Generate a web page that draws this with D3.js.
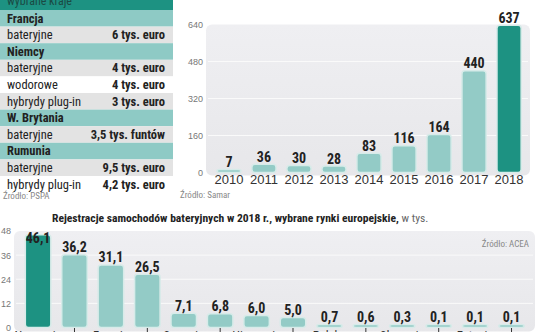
<!DOCTYPE html>
<html><head><meta charset="utf-8">
<script src="https://cdn.jsdelivr.net/npm/d3@7/dist/d3.min.js"></script>
<style>
html,body{margin:0;padding:0;background:#fff;}
svg{display:block;font-family:"Liberation Sans Narrow","Roboto Condensed","DejaVu Sans Condensed",sans-serif;}
</style></head><body>
<svg id="c" width="536" height="332"></svg>
<script>
// ---- data ----
const tableHeader = "wybrane kraje";
const tableLabels = ["Francja","bateryjne","Niemcy","bateryjne","wodorowe","hybrydy plug-in","W. Brytania","bateryjne","Rumunia","bateryjne","hybrydy plug-in"];
const tableValues = ["","6 tys. euro","","4 tys. euro","4 tys. euro","3 tys. euro","","3,5 tys. funtów","","9,5 tys. euro","4,2 tys. euro"];
const tableRowTypes = ["country","grey","country","grey","white","grey","country","grey","country","grey","white"];

const years = ["2010","2011","2012","2013","2014","2015","2016","2017","2018"];
const yearValues = [7,36,30,28,83,116,164,440,637];
const yearTicks = [0,160,320,480,640];

const countries = ["Norwegia","Niemcy","Francja","Holandia","Szwecja","Austria","Hiszpania","Włochy","Polska","Czechy","Słowacja","Węgry","Estonia","Łotwa"];
const regValues = [46.1,36.2,31.1,26.5,7.1,6.8,6.0,5.0,0.7,0.6,0.3,0.1,0.1,0.1];
const regTicks = [0,12,24,36,48];

const fmt = v => String(v.toFixed(1)).replace(".", ",");

const svg = d3.select("#c");
const C = {dark:"#1d9282", light:"#93cbc6", teal:"#8ecac5", grey:"#e3e3e3", panel:"#ececef", text:"#222", axis:"#777"};

// ---- table ----
const rowH = 16.6, rowY0 = 10, tW = 173;
svg.append("rect").attr("x",0).attr("y",-8).attr("width",tW).attr("height",rowY0+8).attr("fill",C.dark);
svg.append("text").attr("x",7).attr("y",5).attr("font-size",12).attr("fill","#1b4a44").text(tableHeader);
const rows = svg.append("g").selectAll("g").data(tableLabels).join("g")
  .attr("transform",(d,i)=>`translate(0,${rowY0+i*rowH})`);
rows.append("rect").attr("width",tW).attr("height",rowH)
  .attr("fill",(d,i)=>tableRowTypes[i]==="country"?C.teal:tableRowTypes[i]==="grey"?C.grey:"#fff");
rows.append("text").attr("x",7).attr("y",rowH/2+4.2).attr("font-size",12.5)
  .attr("font-weight",(d,i)=>tableRowTypes[i]==="country"?"bold":"normal").attr("fill",C.text).text(d=>d);
rows.append("text").attr("x",165).attr("y",rowH/2+4.2).attr("font-size",12.5).attr("font-weight","bold")
  .attr("text-anchor","end").attr("fill",C.text).text((d,i)=>tableValues[i]);
svg.append("text").attr("x",3).attr("y",199).attr("font-size",9).attr("fill","#888").text("Źródło: PSPA");

// ---- top-right chart ----
const x1 = d3.scaleBand().domain(years).range([206,532]).padding(0.31);
const y1 = d3.scaleLinear().domain([0,640]).range([172.5,24.5]);
const grad = svg.append("defs").append("linearGradient").attr("id","pg").attr("x1",0).attr("x2",0).attr("y1",0).attr("y2",1);
grad.append("stop").attr("offset","0%").attr("stop-color","#efeff2");
grad.append("stop").attr("offset","100%").attr("stop-color","#e7e7ea");
svg.append("rect").attr("x",206).attr("y",y1(640)).attr("width",324).attr("height",y1(0)-y1(640)+3).attr("rx",6).attr("fill","url(#pg)");
svg.append("g").selectAll("line").data(yearTicks.filter(t=>t>0&&t<640)).join("line")
  .attr("x1",208).attr("x2",528).attr("y1",d=>y1(d)).attr("y2",d=>y1(d)).attr("stroke","#fafafa").attr("stroke-width",1);
const ax1 = d3.axisLeft(y1).tickValues(yearTicks).tickSize(0).tickPadding(0);
const g1 = svg.append("g").attr("transform","translate(203,0)").call(ax1);
g1.select(".domain").remove();
g1.selectAll("text").attr("font-size",9).attr("fill",C.axis).attr("font-family","inherit");
svg.append("g").selectAll("rect").data(years).join("rect")
  .attr("x",d=>x1(d)).attr("width",x1.bandwidth())
  .attr("y",(d,i)=>Math.min(y1(yearValues[i]), y1(0)-3)).attr("height",(d,i)=>Math.max(y1(0)-y1(yearValues[i]),3))
  .attr("rx",3).attr("fill",(d,i)=>i===years.length-1?C.dark:C.light)
  .attr("stroke","#d7ebe9").attr("stroke-width",1.5);
svg.append("g").selectAll("text").data(years).join("text")
  .attr("x",d=>x1(d)+x1.bandwidth()/2).attr("y",(d,i)=>Math.min(y1(yearValues[i]),y1(0)-3)-2.5)
  .attr("text-anchor","middle").attr("font-size",14).attr("font-weight","bold").attr("fill",C.text)
  .text((d,i)=>yearValues[i]);
const ax1b = d3.axisBottom(x1).tickSize(0).tickPadding(0);
const g1b = svg.append("g").attr("transform","translate(0,175)").call(ax1b);
g1b.select(".domain").remove();
g1b.selectAll("text").attr("font-size",13).attr("fill","#333").attr("font-family","inherit").attr("dy","0.71em");
svg.append("text").attr("x",180).attr("y",198).attr("font-size",9).attr("fill","#888").text("Źródło: Samar");

// ---- bottom chart ----
const t = svg.append("text").attr("x",52).attr("y",222).attr("font-size",11.6).attr("fill",C.text);
t.append("tspan").attr("font-weight","bold").text("Rejestracje samochodów bateryjnych w 2018 r., wybrane rynki europejskie,");
t.append("tspan").attr("fill","#666").text(" w tys.");
const x2 = d3.scaleBand().domain(countries).range([14.4,535.2]).padding(0.3);
const y2 = d3.scaleLinear().domain([0,48]).range([327.5,231]);
svg.append("rect").attr("x",14).attr("y",y2(48)).attr("width",521).attr("height",y2(0)-y2(48)+4).attr("rx",6).attr("fill","url(#pg)");
svg.append("g").selectAll("line").data(regTicks.filter(t=>t>0&&t<48)).join("line")
  .attr("x1",16).attr("x2",533).attr("y1",d=>y2(d)).attr("y2",d=>y2(d)).attr("stroke","#fafafa");
const ax2 = d3.axisLeft(y2).tickValues(regTicks).tickSize(0).tickPadding(0);
const g2 = svg.append("g").attr("transform","translate(11,0)").call(ax2);
g2.select(".domain").remove();
g2.selectAll("text").attr("font-size",9).attr("fill",C.axis).attr("font-family","inherit");
svg.append("text").attr("x",529).attr("y",247).attr("text-anchor","end").attr("font-size",9).attr("fill","#888").text("Źródło: ACEA");
svg.append("g").selectAll("rect").data(countries).join("rect")
  .attr("x",d=>x2(d)).attr("width",x2.bandwidth())
  .attr("y",(d,i)=>Math.min(y2(regValues[i]), y2(0)-3)).attr("height",(d,i)=>Math.max(y2(0)-y2(regValues[i]),3))
  .attr("rx",3).attr("fill",(d,i)=>i===0?C.dark:C.light)
  .attr("stroke","#d7ebe9").attr("stroke-width",1.5);
svg.append("g").selectAll("text").data(countries).join("text")
  .attr("x",d=>x2(d)+x2.bandwidth()/2)
  .attr("y",(d,i)=>Math.max(Math.min(y2(regValues[i]),y2(0)-3)-2.5, 243))
  .attr("text-anchor","middle").attr("font-size",14).attr("font-weight","bold").attr("fill",C.text)
  .text((d,i)=>fmt(regValues[i]));
const g2b = svg.append("g").attr("transform","translate(0,328)");
g2b.selectAll("line").data(countries.filter((d,i)=>i%2===1)).join("line")
  .attr("x1",d=>x2(d)+x2.bandwidth()/2).attr("x2",d=>x2(d)+x2.bandwidth()/2)
  .attr("y1",0).attr("y2",8).attr("stroke","#333").attr("stroke-width",1);
g2b.selectAll("text").data(countries).join("text")
  .attr("x",d=>x2(d)+x2.bandwidth()/2).attr("y",(d,i)=>i%2===0?12:26)
  .attr("text-anchor","middle").attr("font-size",12.5).attr("fill","#333").text(d=>d);
</script></body></html>
